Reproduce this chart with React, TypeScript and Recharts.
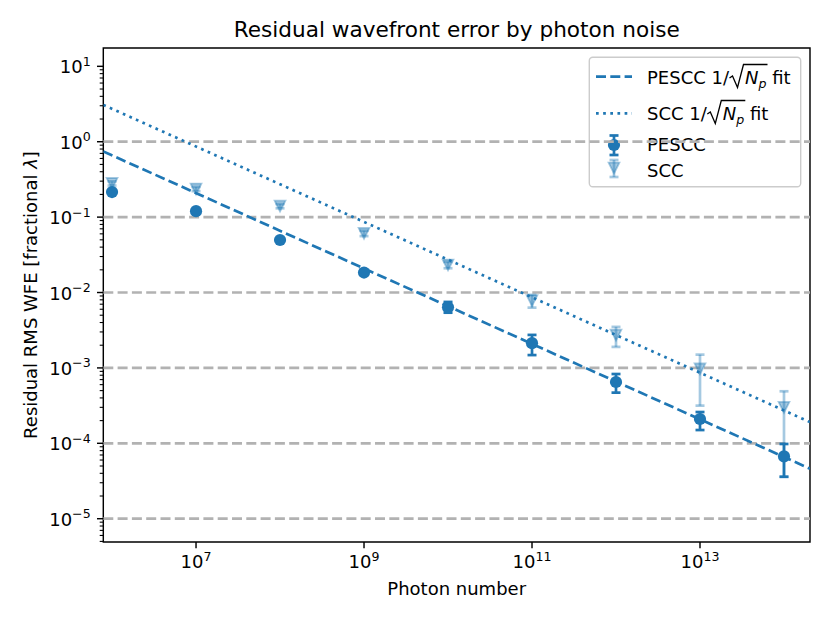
import React from 'react';
import {
  ComposedChart,
  Scatter,
  XAxis,
  YAxis,
  ErrorBar,
  ReferenceLine,
  ReferenceArea,
  Customized,
} from 'recharts';

// ---------- data ----------
const photonNumbers = [1e6, 1e7, 1e8, 1e9, 1e10, 1e11, 1e12, 1e13, 1e14];

const pesccValues = [0.215, 0.12, 0.0497, 0.0184, 0.00638, 0.00213, 6.5e-4, 2.1e-4, 6.7e-5];
const pesccLower = [0.206, 0.115, 0.0476, 0.0176, 0.0054, 0.00148, 4.7e-4, 1.5e-4, 3.6e-5];
const pesccUpper = [0.224, 0.125, 0.0518, 0.0192, 0.0075, 0.00274, 8.3e-4, 2.6e-4, 9.8e-5];

const sccValues = [0.28, 0.236, 0.14, 0.061, 0.0232, 0.0078, 0.00273, 9.7e-4, 3.0e-4];
const sccLower = [0.262, 0.221, 0.131, 0.056, 0.021, 0.0063, 0.0019, 3.16e-4, 3.6e-5];
const sccUpper = [0.298, 0.251, 0.149, 0.066, 0.0255, 0.0093, 0.0035, 0.0015, 4.9e-4];

const fitPhotonNumbers = [7.87e5, 2.04e14];
const pesccFitValues = [0.743, 4.61e-5];
const sccFitValues = [3.08, 1.91e-4];

const xTicks = [1e7, 1e9, 1e11, 1e13];
const yMajorTicks = [1e-5, 1e-4, 1e-3, 1e-2, 1e-1, 1e0, 1e1];
const gridLevels = [1e-5, 1e-4, 1e-3, 1e-2, 1e-1, 1e0];
const minorMultipliers = [2, 3, 4, 5, 6, 7, 8, 9];

const X_DOMAIN: [number, number] = [7.87e5, 2.04e14];
const Y_DOMAIN: [number, number] = [4.91e-6, 17.5];

const TITLE = 'Residual wavefront error by photon noise';
const X_LABEL = 'Photon number';

// ---------- derived tables ----------
const yTicks: number[] = [];
[1e-6, ...yMajorTicks].forEach((d) => {
  if (d >= Y_DOMAIN[0] && d <= Y_DOMAIN[1]) yTicks.push(d);
  minorMultipliers.forEach((m) => {
    const v = m * d;
    if (v >= Y_DOMAIN[0] && v <= Y_DOMAIN[1]) yTicks.push(v);
  });
});

const pesccData = photonNumbers.map((x, i) => ({
  x,
  y: pesccValues[i],
  err: [pesccValues[i] - pesccLower[i], pesccUpper[i] - pesccValues[i]],
}));
const sccData = photonNumbers.map((x, i) => ({
  x,
  y: sccValues[i],
  err: [sccValues[i] - sccLower[i], sccUpper[i] - sccValues[i]],
}));
const pesccFit = fitPhotonNumbers.map((x, i) => ({ x, y: pesccFitValues[i] }));
const sccFit = fitPhotonNumbers.map((x, i) => ({ x, y: sccFitValues[i] }));

// ---------- styles ----------
const BLUE = '#1f77b4';
const FONT = 'DejaVu Sans';
const FS = 18;
const LW = 2.7;
const DASH = '10 4.3';
const DOT = '2.7 4.45';
const SCC_ALPHA = 0.4;

const expText = (e: number) => (e < 0 ? '\u2212' + String(-e) : String(e));

const YTick = (props: any) => {
  const { x, y, payload } = props;
  const v = payload.value;
  const lg = Math.log10(v);
  const e = Math.round(lg);
  const major = Math.abs(lg - e) < 1e-6;
  return (
    <g>
      <line
        x1={x}
        x2={x - (major ? 6.3 : 3.6)}
        y1={y}
        y2={y}
        stroke="#000"
        strokeWidth={major ? 1.44 : 1.08}
      />
      {major && (
        <text x={x - 12.6} y={y + 7} textAnchor="end" fontSize={FS} fontFamily={FONT} fill="#000">
          10
          <tspan dy={-7.5} fontSize={12.6}>
            {expText(e)}
          </tspan>
        </text>
      )}
    </g>
  );
};

const XTick = (props: any) => {
  const { x, y, payload } = props;
  const e = Math.round(Math.log10(payload.value));
  return (
    <g>
      <line x1={x} x2={x} y1={y} y2={y + 6.3} stroke="#000" strokeWidth={1.44} />
      <text x={x} y={y + 26} textAnchor="middle" fontSize={FS} fontFamily={FONT} fill="#000">
        10
        <tspan dy={-7.5} fontSize={12.6}>
          {expText(e)}
        </tspan>
      </text>
    </g>
  );
};

const Circle = (props: any) => {
  const { cx, cy } = props;
  if (cx == null || cy == null) return <g />;
  return <circle cx={cx} cy={cy} r={6.1} fill={BLUE} />;
};

const triPath = (cx: number, cy: number, s: number) =>
  `M${cx - s},${cy - s}L${cx + s},${cy - s}L${cx},${cy + s}Z`;

const TriDown = (props: any) => {
  const { cx, cy } = props;
  if (cx == null || cy == null) return <g />;
  return (
    <path
      d={triPath(cx, cy, 5.4)}
      fill={BLUE}
      fillOpacity={SCC_ALPHA}
      stroke={BLUE}
      strokeOpacity={SCC_ALPHA}
      strokeWidth={1.8}
      strokeLinejoin="miter"
    />
  );
};

const NoShape = () => <g />;

const Radical = ({ x, base }: { x: number; base: number }) => (
  <path
    d={`M${x + 0.5},${base - 6}L${x + 3.5},${base - 8}L${x + 8.5},${base + 3.5}L${x + 14.5},${base - 19.5}L${x + 38.5},${base - 19.5}`}
    fill="none"
    stroke="#000"
    strokeWidth={1.3}
  />
);

const Overlay = () => (
  <g fontFamily={FONT} fill="#000">
    <text x={456.7} y={37} textAnchor="middle" fontSize={21.6}>
      {TITLE}
    </text>
    <text x={456.7} y={595} textAnchor="middle" fontSize={FS}>
      {X_LABEL}
    </text>
    <text transform="rotate(-90)" x={-295} y={37} textAnchor="middle" fontSize={FS}>
      Residual RMS WFE [fractional <tspan fontStyle="italic">λ</tspan>]
    </text>

    {/* legend */}
    <rect
      x={589.3}
      y={57.3}
      width={211.4}
      height={129.4}
      rx={3.5}
      fill="#fff"
      fillOpacity={0.8}
      stroke="#cccccc"
      strokeWidth={1.4}
    />
    <line x1={596} x2={632} y1={76.7} y2={76.7} stroke={BLUE} strokeWidth={LW} strokeDasharray={DASH} />
    <text x={647} y={84} fontSize={FS}>
      PESCC 1/
      <tspan dx={16} fontStyle="italic">N</tspan>
      <tspan fontStyle="italic" fontSize={12.6} dy={3.8}>p</tspan>
      <tspan dy={-3.8}> fit</tspan>
    </text>
    <Radical x={729} base={84} />

    <line x1={596} x2={632} y1={113.3} y2={113.3} stroke={BLUE} strokeWidth={LW} strokeDasharray={DOT} />
    <text x={647} y={120} fontSize={FS}>
      SCC 1/
      <tspan dx={16} fontStyle="italic">N</tspan>
      <tspan fontStyle="italic" fontSize={12.6} dy={3.8}>p</tspan>
      <tspan dy={-3.8}> fit</tspan>
    </text>
    <Radical x={706.8} base={120} />

    <g stroke={BLUE} strokeWidth={LW}>
      <line x1={614} x2={614} y1={135.5} y2={155} />
      <line x1={609.5} x2={618.5} y1={135.5} y2={135.5} />
      <line x1={609.5} x2={618.5} y1={155} y2={155} />
    </g>
    <circle cx={614} cy={145} r={6.1} fill={BLUE} />
    <text x={647} y={150.5} fontSize={FS}>
      PESCC
    </text>

    <g stroke={BLUE} strokeOpacity={SCC_ALPHA} strokeWidth={LW}>
      <line x1={614} x2={614} y1={160} y2={177} />
      <line x1={609.5} x2={618.5} y1={160} y2={160} />
      <line x1={609.5} x2={618.5} y1={177} y2={177} />
    </g>
    <path
      d={triPath(614, 168, 5.4)}
      fill={BLUE}
      fillOpacity={SCC_ALPHA}
      stroke={BLUE}
      strokeOpacity={SCC_ALPHA}
      strokeWidth={1.8}
    />
    <text x={647} y={177} fontSize={FS}>
      SCC
    </text>
  </g>
);

export default function App() {
  return (
    <div style={{ position: 'absolute', left: 0, top: 0, width: 830, height: 623, background: '#fff' }}>
      <ComposedChart
        width={830}
        height={623}
        margin={{ top: 48, right: 20, bottom: 21, left: 3.3 }}
        style={{ fontFamily: FONT }}
      >
        <XAxis
          dataKey="x"
          type="number"
          scale="log"
          domain={X_DOMAIN}
          allowDataOverflow
          ticks={xTicks}
          interval={0}
          tickSize={0}
          tickMargin={0}
          tickLine={false}
          axisLine={false}
          height={60}
          tick={(p: any) => <XTick {...p} />}
        />
        <YAxis
          dataKey="y"
          type="number"
          scale="log"
          domain={Y_DOMAIN}
          allowDataOverflow
          ticks={yTicks}
          interval={0}
          tickSize={0}
          tickMargin={0}
          tickLine={false}
          axisLine={false}
          width={100}
          tick={(p: any) => <YTick {...p} />}
        />
        {gridLevels.map((g) => (
          <ReferenceLine
            key={g}
            y={g}
            stroke="#b2b2b2"
            strokeWidth={LW}
            strokeDasharray={DASH}
          />
        ))}
        <Scatter
          data={pesccFit}
          dataKey="y"
          line={{ stroke: BLUE, strokeWidth: LW, strokeDasharray: DASH }}
          lineJointType="linear"
          shape={NoShape}
          isAnimationActive={false}
          legendType="none"
        />
        <Scatter
          data={sccFit}
          dataKey="y"
          line={{ stroke: BLUE, strokeWidth: LW, strokeDasharray: DOT }}
          lineJointType="linear"
          shape={NoShape}
          isAnimationActive={false}
          legendType="none"
        />
        <Scatter data={pesccData} dataKey="y" shape={Circle} isAnimationActive={false}>
          <ErrorBar dataKey="err" direction="y" width={4.5} stroke={BLUE} strokeWidth={LW} />
        </Scatter>
        <Scatter data={sccData} dataKey="y" shape={TriDown} isAnimationActive={false}>
          <ErrorBar
            dataKey="err"
            direction="y"
            width={4.5}
            stroke={BLUE}
            strokeOpacity={SCC_ALPHA}
            strokeWidth={LW}
          />
        </Scatter>
        <ReferenceArea
          x1={X_DOMAIN[0]}
          x2={X_DOMAIN[1]}
          y1={Y_DOMAIN[0]}
          y2={Y_DOMAIN[1]}
          fill="none"
          stroke="#000"
          strokeWidth={1.44}
          ifOverflow="visible"
        />
        <Customized component={Overlay} />
      </ComposedChart>
    </div>
  );
}
